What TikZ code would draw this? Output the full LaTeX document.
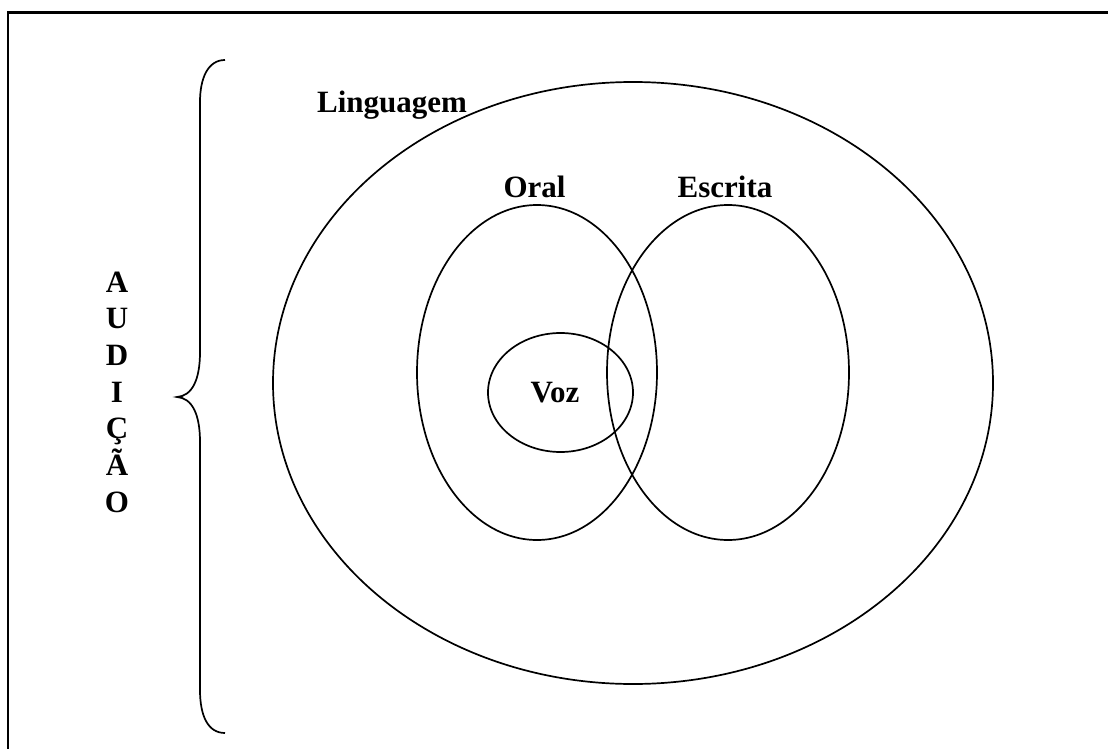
\documentclass[tikz,border=0pt]{standalone}
\usepackage{fontspec}
\setmainfont{Liberation Serif}
\usepackage{tikz}
\usetikzlibrary{calc}

\begin{document}
\begin{tikzpicture}[x=1pt,y=-1pt,line width=1.7pt]
  \tikzset{lbl/.style={font=\bfseries\fontsize{31}{37}\selectfont,inner sep=0pt,anchor=base}}
	%the page frame
	\useasboundingbox (0,0) rectangle (1108,749);
	\draw[line width=2.2pt] (8,752) -- (8,12.5) -- (1112,12.5);
	%the brace
	\draw (225,60) .. controls (208,60) and (200,78) .. (200,102)
	   -- (200,352) .. controls (200,380) and (192,396) .. (177,397)
	   .. controls (192,398) and (200,414) .. (200,442)
	   -- (200,690) .. controls (200,716) and (208,733) .. (225,733);
	%the sets
	\draw (633,383) ellipse [x radius=360, y radius=301];
	\draw (537,372.5) ellipse [x radius=120, y radius=167.5];
	\draw (728,372.5) ellipse [x radius=121, y radius=167.5];
	\draw (560.5,392.5) ellipse [x radius=72.5, y radius=59.5];
	%labels
	\node[lbl] (linguagem) at (392,113) {Linguagem};
	\node[lbl] (oral) at (534.5,197) {Oral};
	\node[lbl] (escrita) at (725,197) {Escrita};
	\node[lbl] (voz) at (555,402) {Voz};
	\foreach \ch [count=\i from 0] in {A,U,D,I,Ç,Ã,O}
	   \node[lbl] (aud\i) at (117,292+36.7*\i) {\ch};
\end{tikzpicture}
\end{document}
